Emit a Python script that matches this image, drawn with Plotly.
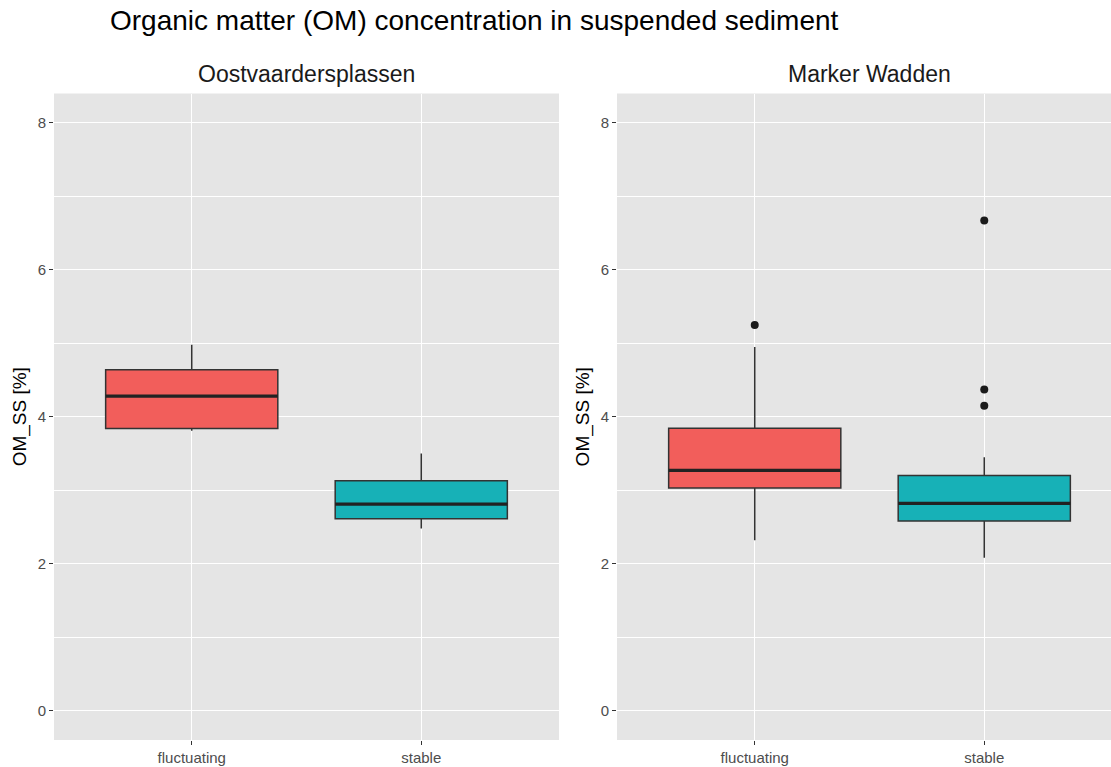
import plotly.graph_objects as go

# ---- data ----
sites = ["Oostvaardersplassen", "Marker Wadden"]
categories = ["fluctuating", "stable"]

osv_lower = [3.81, 2.48]
osv_q1 = [3.84, 2.61]
osv_median = [4.28, 2.81]
osv_q3 = [4.64, 3.13]
osv_upper = [4.98, 3.50]

mw_lower = [2.32, 2.08]
mw_q1 = [3.03, 2.58]
mw_median = [3.27, 2.82]
mw_q3 = [3.845, 3.20]
mw_upper = [4.95, 3.45]

mw_outlier_cat = ["fluctuating", "stable", "stable", "stable"]
mw_outlier_val = [5.25, 6.67, 4.37, 4.15]

y_ticks = [0, 2, 4, 6, 8]
y_minor = [1, 3, 5, 7]

# ---- style ----
W, H = 1111, 767
fills = ["#F25E5B", "#17B1B7"]
line_col = "#333333"
panel_bg = "#E5E5E5"
tick_col = "#4D4D4D"
FONT = "Liberation Sans, Arial, Helvetica, sans-serif"
box_w = 0.75
pos = [i + 1 for i in range(len(categories))]

fig = go.Figure()

panels = [
    (osv_lower, osv_q1, osv_median, osv_q3, osv_upper, "x", "y"),
    (mw_lower, mw_q1, mw_median, mw_q3, mw_upper, "x2", "y2"),
]
for lo, q1, med, q3, up, xa, ya in panels:
    for i, cat in enumerate(categories):
        fig.add_trace(go.Box(
            x=[pos[i]], q1=[q1[i]], median=[med[i]], q3=[q3[i]],
            lowerfence=[lo[i]], upperfence=[up[i]],
            width=box_w, whiskerwidth=0,
            fillcolor=fills[i], line=dict(color=line_col, width=1.5),
            boxpoints=False, xaxis=xa, yaxis=ya, showlegend=False,
            hoverinfo="skip",
        ))
        # thicker median line (ggplot fatten)
        fig.add_trace(go.Scatter(
            x=[pos[i] - box_w / 2, pos[i] + box_w / 2], y=[med[i], med[i]],
            mode="lines", line=dict(color="#222222", width=3.2),
            xaxis=xa, yaxis=ya, showlegend=False, hoverinfo="skip",
        ))

fig.add_trace(go.Scatter(
    x=[pos[categories.index(c)] for c in mw_outlier_cat], y=mw_outlier_val,
    mode="markers", marker=dict(color="#1A1A1A", size=8),
    xaxis="x2", yaxis="y2", showlegend=False, hoverinfo="skip",
))

# ---- layout geometry (pixels) ----
left_panel = (54, 559)
right_panel = (617, 1111)
panel_top, panel_bottom = 93.5, 740
px_per_unit = (left_panel[1] - left_panel[0]) / 2.2
right_max = 0.4 + (right_panel[1] - right_panel[0]) / px_per_unit

ydom = [(H - panel_bottom) / H, (H - panel_top) / H]

def xaxis_cfg(dom, rng):
    return dict(
        domain=[dom[0] / W, dom[1] / W], range=rng,
        tickmode="array", tickvals=pos, ticktext=categories,
        showgrid=True, gridcolor="white", gridwidth=1.2,
        zeroline=False, showline=False,
        ticks="outside", ticklen=4, tickwidth=1, tickcolor=line_col,
        tickfont=dict(family=FONT, size=15, color=tick_col),
        automargin=False, fixedrange=True,
    )

def yaxis_cfg(anchor):
    return dict(
        domain=ydom, range=[-0.4, 8.4], anchor=anchor,
        tickmode="array", tickvals=y_ticks, ticktext=[str(v) for v in y_ticks],
        showgrid=True, gridcolor="white", gridwidth=1.2,
        minor=dict(tickvals=y_minor, showgrid=True, gridcolor="white", gridwidth=0.6, ticks=""),
        zeroline=False, showline=False,
        ticks="outside", ticklen=4, tickwidth=1, tickcolor=line_col,
        tickfont=dict(family=FONT, size=15, color=tick_col),
        title=dict(text="OM_SS [%]", font=dict(family=FONT, size=19, color="black"), standoff=6),
        automargin=False, fixedrange=True,
    )

fig.update_layout(
    width=W, height=H,
    margin=dict(l=0, r=0, t=0, b=0),
    paper_bgcolor="white", plot_bgcolor=panel_bg,
    xaxis=xaxis_cfg(left_panel, [0.4, 2.6]),
    xaxis2=xaxis_cfg(right_panel, [0.4, right_max]),
    yaxis=yaxis_cfg("x"),
    yaxis2=yaxis_cfg("x2"),
    title=dict(
        text="Organic matter (OM) concentration in suspended sediment",
        x=110 / W, xanchor="left", xref="paper",
        y=1 - 20 / H, yanchor="middle", yref="container",
        font=dict(family=FONT, size=28, color="black"),
    ),
    showlegend=False,
)

# facet strip titles
centers = [
    (left_panel[0] + left_panel[1]) / 2,
    (right_panel[0] + (right_panel[0] + 2.2 * px_per_unit)) / 2,
]
for name, cx in zip(sites, centers):
    fig.add_annotation(
        text=name, x=cx / W, y=1 - 74 / H, xref="paper", yref="paper",
        xanchor="center", yanchor="middle", showarrow=False,
        font=dict(family=FONT, size=23, color="#1A1A1A"),
    )

fig.write_html("out.html")
